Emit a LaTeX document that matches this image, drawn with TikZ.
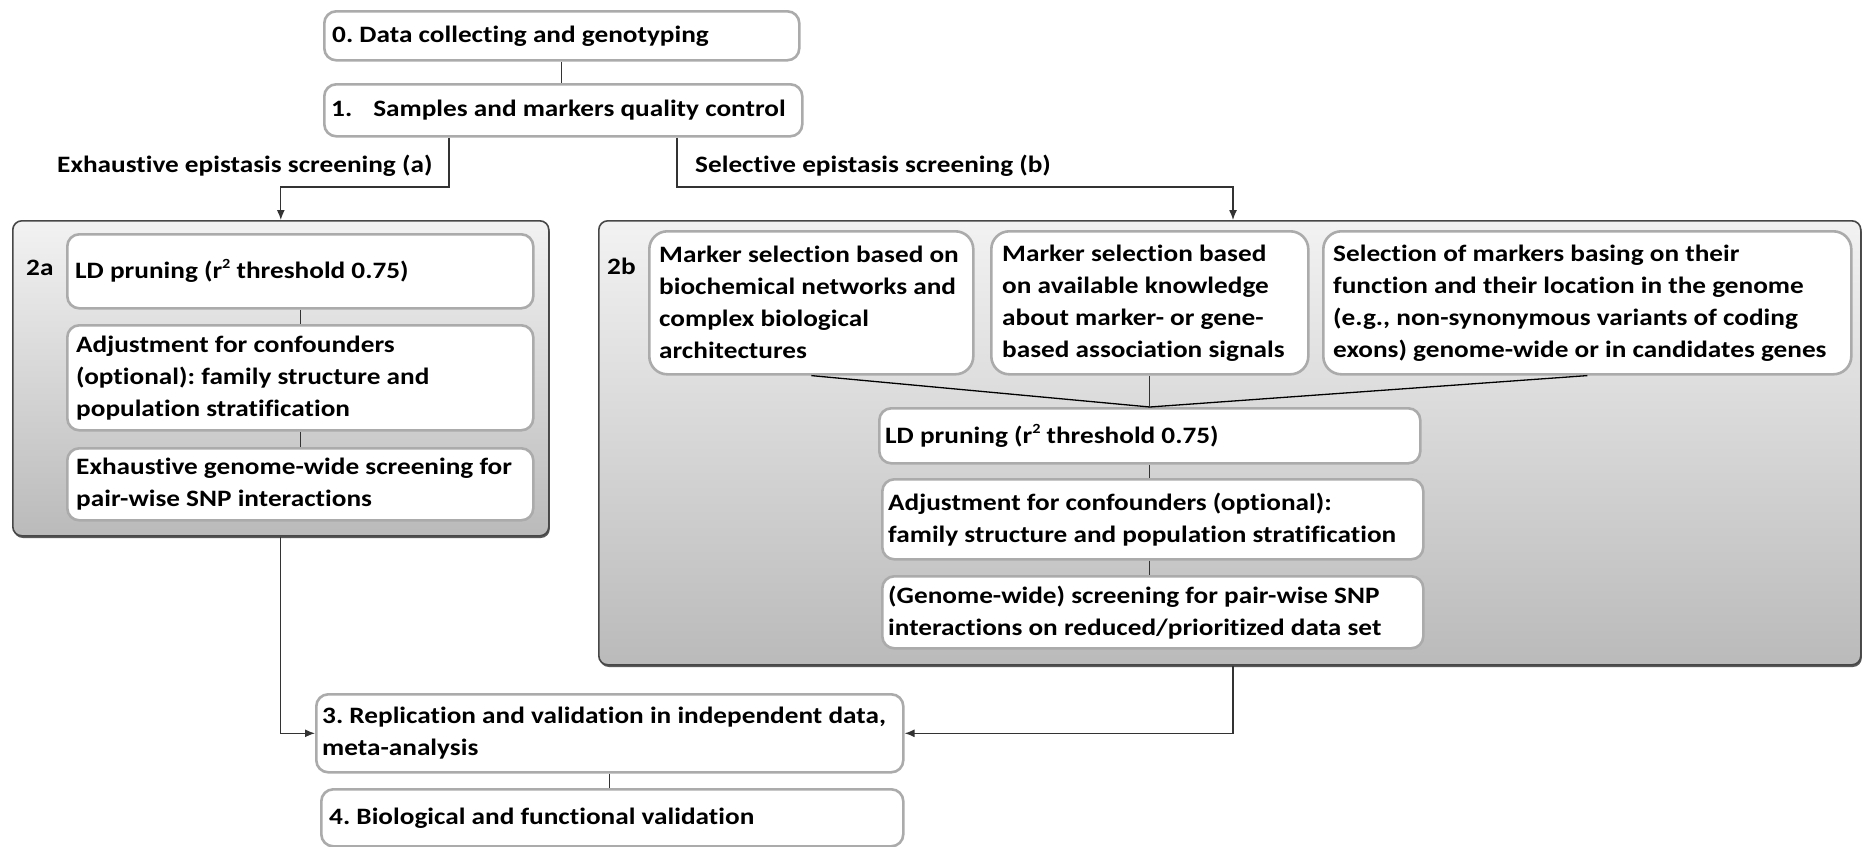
\documentclass[tikz,border=0pt]{standalone}
\usepackage{fontspec}
\setmainfont{Carlito}[FakeStretch=1.16, Ligatures=NoCommon]
\usetikzlibrary{arrows.meta,shadows}
\frenchspacing
\newcommand{\sqr}{\raisebox{0.42em}{\fontsize{14}{14}\selectfont 2}}
\begin{document}
\begin{tikzpicture}[x=1pt,y=-1pt,
  every node/.style={font=\fontsize{23.5}{32}\selectfont\bfseries, inner ysep=0pt},
  box/.style={draw=black!33, line width=2.6pt, fill=white, rounded corners=12pt, anchor=north west},
  bigbox/.style={box, rounded corners=18pt},
  txt/.style={anchor=west, align=left, inner xsep=0pt},
  cont/.style={draw=black!72, line width=1.6pt, rounded corners=9pt, anchor=north west,
    top color=black!5, bottom color=black!27,
    drop shadow={shadow xshift=1pt, shadow yshift=-2.2pt, fill=black!65, opacity=1}},
  conn/.style={line width=1.3pt, draw=black!80},
  arr/.style={conn, -{Latex[length=10pt,width=8pt]}},
  lbl/.style={anchor=west, inner xsep=0pt}
]
\useasboundingbox (0,0) rectangle (1863,846);

% containers
\node[cont, minimum width=536, minimum height=315] (c2a) at (12,220) {};
\node[cont, minimum width=1262, minimum height=444] (c2b) at (598,220) {};

% top boxes
\node[box, minimum width=475, minimum height=49] (b0) at (323,10) {};
\node[txt] (b0t) at ([xshift=9pt]b0.west) {0. Data collecting and genotyping};
\node[box, minimum width=478, minimum height=52] (b1) at (323,83) {};
\node[txt] (b1t) at ([xshift=8pt]b1.west) {1.\hspace{21pt}Samples and markers quality control};

% branch labels
\node[lbl] (la) at (57,166) {Exhaustive epistasis screening (a)};
\node[lbl] (lb) at (695,166) {Selective epistasis screening (b)};

% 2a
\node[lbl] (t2a) at (26,268) {2a};
\node[box, minimum width=466, minimum height=74] (a1) at (66,233) {};
\node[txt] (a1t) at ([xshift=9pt]a1.west) {LD pruning (r\sqr\ threshold 0.75)};
\node[box, minimum width=466, minimum height=105] (a2) at (66,324) {};
\node[txt] (a2t) at ([xshift=10pt]a2.west)
  {Adjustment for confounders\\(optional): family structure and\\population stratification};
\node[box, minimum width=466, minimum height=72] (a3) at (66,447) {};
\node[txt] (a3t) at ([xshift=10pt]a3.west)
  {Exhaustive genome-wide screening for\\pair-wise SNP interactions};

% 2b
\node[lbl] (t2b) at (607,266) {2b};
\node[bigbox, minimum width=324, minimum height=143] (m1) at (648,230) {};
\node[txt] (m1t) at ([xshift=11pt]m1.west)
  {Marker selection based on\\biochemical networks and\\complex biological\\architectures};
\node[bigbox, minimum width=317, minimum height=143] (m2) at (990,230) {};
\node[txt] (m2t) at ([xshift=12pt]m2.west)
  {Marker selection based\\on available knowledge\\about marker- or gene-\\based association signals};
\node[bigbox, minimum width=528, minimum height=143] (m3) at (1322,230) {};
\node[txt] (m3t) at ([xshift=11pt]m3.west)
  {Selection of markers basing on their\\function and their location in the genome\\(e.g., non-synonymous variants of coding\\exons) genome-wide or in candidates genes};
\node[box, minimum width=541, minimum height=55] (ld) at (878,407) {};
\node[txt] (ldt) at ([xshift=7pt]ld.west) {LD pruning (r\sqr\ threshold 0.75)};
\node[box, minimum width=541, minimum height=80] (adj) at (881,478) {};
\node[txt] (adjt) at ([xshift=7pt]adj.west)
  {Adjustment for confounders (optional):\\family structure and population stratification};
\node[box, minimum width=541, minimum height=72] (gen) at (881,575) {};
\node[txt] (gent) at ([xshift=7pt]gen.west)
  {(Genome-wide) screening for pair-wise SNP\\interactions on reduced/prioritized data set};

% bottom boxes
\node[box, minimum width=587, minimum height=78] (b3) at (315,693) {};
\node[txt] (b3t) at ([xshift=7pt]b3.west)
  {3. Replication and validation in independent data,\\meta-analysis};
\node[box, minimum width=582, minimum height=57] (b4) at (320,788) {};
\node[txt] (b4t) at ([xshift=9pt]b4.west) {4. Biological and functional validation};

% branch points
\coordinate (ka) at (449,187);
\coordinate (kc) at (677,187);
\coordinate (kd) at (1233,187);

% connectors
\draw[conn] (b0.south) -- (b0.south |- b1.north);
\draw[arr] (ka |- b1.south) -- (ka) -- (c2a.north |- ka) -- (c2a.north);
\draw[arr] (kc |- b1.south) -- (kc) -- (kd) -- (kd |- c2b.north);

\draw[conn] (a1.south) -- (a1.south |- a2.north);
\draw[conn] (a2.south) -- (a2.south |- a3.north);

\draw[conn, draw=black] (m1.south) -- (ld.north);
\draw[conn] (m2.south) -- (ld.north);
\draw[conn, draw=black] (m3.south) -- (ld.north);
\draw[conn] (ld.south) -- (ld.south |- adj.north);
\draw[conn] (ld.south |- adj.south) -- (ld.south |- gen.north);

\draw[arr] (c2a.south) -- (c2a.south |- b3.west) -- (b3.west);
\draw[arr] (kd |- c2b.south) -- (kd |- b3.east) -- (b3.east);
\draw[conn] (b3.south) -- (b3.south |- b4.north);
\end{tikzpicture}
\end{document}
